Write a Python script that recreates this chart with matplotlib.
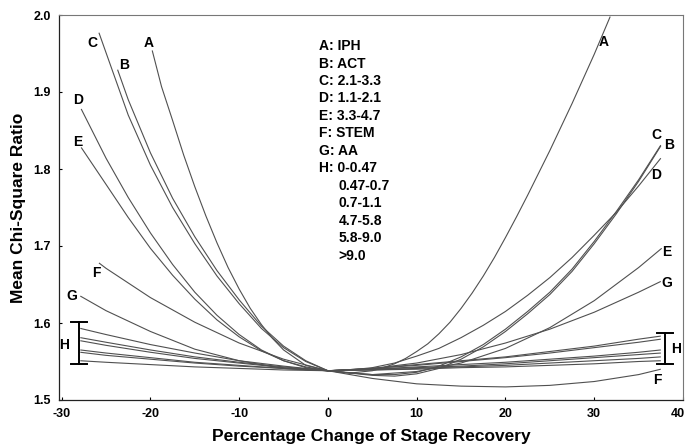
import matplotlib
matplotlib.use("Agg")
import matplotlib.pyplot as plt
from matplotlib.transforms import ScaledTranslation

plt.rcParams["font.family"] = ["Liberation Sans", "DejaVu Sans"]
plt.rcParams["font.weight"] = "bold"

# Mean chi-square ratio against percentage change of stage recovery
a_x = [-19.8, -18.75, -17.5, -16.25, -15, -13.75, -12.5, -11.25, -10, -8.75,
       -7.5, -6.25, -5, -2.5, 0, 2.5, 5, 6.25, 7.5, 8.75, 10, 11.25, 12.5,
       13.75, 15, 16.25, 17.5, 18.75, 20, 21.25, 22.5, 25, 27.5, 30, 31.8]
a_y = [1.954, 1.907, 1.863, 1.818, 1.777, 1.739, 1.704, 1.672, 1.644, 1.619,
       1.598, 1.580, 1.565, 1.545, 1.538, 1.535, 1.538, 1.542, 1.547, 1.554,
       1.563, 1.573, 1.586, 1.601, 1.619, 1.639, 1.661, 1.685, 1.711, 1.738,
       1.766, 1.824, 1.885, 1.949, 1.998]

b_x = [-23.7, -22.5, -20, -17.5, -15, -12.5, -10, -7.5, -5, -2.5, 0, 2.5, 5,
       7.5, 10, 12.5, 15, 17.5, 20, 22.5, 25, 27.5, 30, 32.5, 35, 37.5]
b_y = [1.929, 1.890, 1.821, 1.762, 1.712, 1.668, 1.630, 1.596, 1.570, 1.551,
       1.538, 1.535, 1.532, 1.531, 1.534, 1.541, 1.553, 1.569, 1.589, 1.612,
       1.637, 1.667, 1.703, 1.742, 1.784, 1.830]

c_x = [-25.8, -25, -22.5, -20, -17.5, -15, -12.5, -10, -7.5, -5, -2.5, 0, 2.5,
       5, 7.5, 10, 12.5, 15, 17.5, 20, 22.5, 25, 27.5, 30, 32.5, 35, 37.5]
c_y = [1.977, 1.951, 1.870, 1.805, 1.750, 1.703, 1.661, 1.625, 1.593, 1.568,
       1.550, 1.538, 1.535, 1.533, 1.533, 1.536, 1.544, 1.556, 1.572, 1.592,
       1.615, 1.640, 1.670, 1.706, 1.745, 1.786, 1.831]

d_x = [-27.8, -25, -22.5, -20, -17.5, -15, -12.5, -10, -7.5, -5, -2.5, 0, 2.5,
       5, 7.5, 10, 12.5, 15, 17.5, 20, 22.5, 25, 27.5, 30, 32.5, 35, 37.5]
d_y = [1.878, 1.814, 1.763, 1.717, 1.676, 1.640, 1.610, 1.585, 1.565, 1.551,
       1.542, 1.538, 1.539, 1.542, 1.548, 1.557, 1.567, 1.581, 1.597, 1.615,
       1.636, 1.659, 1.685, 1.714, 1.744, 1.778, 1.814]

e_x = [-27.8, -25, -22.5, -20, -17.5, -15, -12.5, -10, -7.5, -5, -2.5, 0, 5,
       10, 15, 20, 25, 30, 35, 37.6]
e_y = [1.828, 1.780, 1.737, 1.697, 1.662, 1.631, 1.604, 1.582, 1.564, 1.551,
       1.543, 1.538, 1.533, 1.537, 1.548, 1.567, 1.594, 1.629, 1.672, 1.697]

f_x = [-25.8, -25, -20, -15, -10, -5, 0, 5, 10, 15, 20, 25, 30, 35, 37.5]
f_y = [1.678, 1.671, 1.633, 1.601, 1.574, 1.553, 1.538, 1.528, 1.521, 1.518,
       1.517, 1.519, 1.524, 1.533, 1.540]

g_x = [-27.9, -25, -20, -15, -10, -5, 0, 5, 10, 15, 20, 25, 30, 35, 37.5]
g_y = [1.635, 1.616, 1.589, 1.566, 1.551, 1.541, 1.538, 1.541, 1.548, 1.559,
       1.574, 1.592, 1.614, 1.640, 1.654]

# group H: six recovery bands sharing one x grid
h_x = [-27.9, -25, -20, -15, -10, -5, 0, 5, 10, 15, 20, 25, 30, 35, 37.5]
h_y = [
    [1.593, 1.585, 1.572, 1.561, 1.551, 1.544, 1.538, 1.541, 1.546, 1.551,
     1.556, 1.563, 1.570, 1.579, 1.583],
    [1.581, 1.575, 1.565, 1.556, 1.549, 1.543, 1.538, 1.541, 1.545, 1.550,
     1.555, 1.561, 1.568, 1.575, 1.579],
    [1.577, 1.571, 1.562, 1.554, 1.548, 1.542, 1.538, 1.540, 1.543, 1.546,
     1.549, 1.553, 1.557, 1.562, 1.565],
    [1.565, 1.561, 1.555, 1.549, 1.545, 1.541, 1.538, 1.540, 1.542, 1.544,
     1.547, 1.551, 1.555, 1.559, 1.561],
    [1.562, 1.558, 1.553, 1.548, 1.544, 1.541, 1.538, 1.539, 1.541, 1.543,
     1.545, 1.548, 1.551, 1.554, 1.556],
    [1.551, 1.549, 1.546, 1.543, 1.541, 1.539, 1.538, 1.539, 1.540, 1.542,
     1.543, 1.545, 1.547, 1.550, 1.551],
]

legend_lines = ["A: IPH", "B: ACT", "C: 2.1-3.3", "D: 1.1-2.1", "E: 3.3-4.7",
                "F: STEM", "G: AA", "H: 0-0.47", "0.47-0.7", "0.7-1.1",
                "4.7-5.8", "5.8-9.0", ">9.0"]

x_ticks = [-30, -20, -10, 0, 10, 20, 30, 40]
y_ticks = [1.5, 1.6, 1.7, 1.8, 1.9, 2.0]

fig = plt.figure(figsize=(6.87, 4.47), dpi=100)
ax = fig.add_axes([59 / 687, 1 - 400 / 447, 624 / 687, 385 / 447])

line_kw = dict(color="#505050", linewidth=0.8, solid_capstyle="butt")
for xs, ys in [(a_x, a_y), (b_x, b_y), (c_x, c_y), (d_x, d_y),
               (e_x, e_y), (f_x, f_y), (g_x, g_y)]:
    ax.plot(xs, ys, **line_kw)
for ys in h_y:
    ax.plot(h_x, ys, **line_kw)

# brackets marking the H bundle at both ends
left_vals = [ys[0] for ys in h_y]
right_vals = [ys[-1] for ys in h_y]
for bx, lo, hi in [(-28.1, min(left_vals) - 0.004, max(left_vals) + 0.008),
                   (37.95, min(right_vals) - 0.004, max(right_vals) + 0.004)]:
    ax.plot([bx, bx], [lo, hi], color="black", linewidth=1.4)
    ax.plot([bx - 0.9, bx + 0.9], [lo, lo], color="black", linewidth=1.4)
    ax.plot([bx - 0.9, bx + 0.9], [hi, hi], color="black", linewidth=1.4)

curve_labels = [
    ("A", -20.2, 1.964), ("C", -26.5, 1.964), ("B", -23.0, 1.935),
    ("D", -28.1, 1.890), ("E", -28.2, 1.835), ("F", -26.1, 1.665),
    ("G", -28.9, 1.635), ("H", -29.7, 1.571),
    ("A", 31.1, 1.965), ("C", 37.0, 1.844), ("B", 38.4, 1.831),
    ("D", 37.0, 1.792), ("E", 38.2, 1.692), ("G", 38.2, 1.652),
    ("H", 39.2, 1.566), ("F", 37.1, 1.526),
]
for txt, tx, ty in curve_labels:
    ax.text(tx, ty, txt, ha="center", va="center", fontsize=10,
            fontweight="bold")

for i, txt in enumerate(legend_lines):
    tx = -1.05 if i < 8 else 1.2
    ax.text(tx, 1.9597 - i * 0.0227, txt, ha="left", va="center",
            fontsize=10, fontweight="bold")

ax.set_xlim(-30.3, 40)
ax.set_ylim(1.5, 2.0)
ax.set_xticks(x_ticks)
ax.set_xticklabels([str(t) for t in x_ticks])
ax.set_yticks(y_ticks)
ax.set_yticklabels([f"{t:.1f}" for t in y_ticks])
ax.tick_params(axis="both", direction="in", length=2, width=0.8,
               labelsize=9, pad=6)
for lab in ax.get_xticklabels() + ax.get_yticklabels():
    lab.set_fontweight("bold")
# keep the last x label inside the figure edge
last = ax.get_xticklabels()[-1]
last.set_transform(last.get_transform()
                   + ScaledTranslation(-5 / 100, 0, fig.dpi_scale_trans))

for side in ["left", "bottom"]:
    ax.spines[side].set_color("#222222")
    ax.spines[side].set_linewidth(0.9)
for side in ["top", "right"]:
    ax.spines[side].set_color("#777777")
    ax.spines[side].set_linewidth(0.8)

ax.set_xlabel("Percentage Change of Stage Recovery", fontsize=12.5,
              fontweight="bold", labelpad=6)
ax.set_ylabel("Mean Chi-Square Ratio", fontsize=12.5, fontweight="bold",
              labelpad=5)

fig.savefig("out.png", dpi=100)
